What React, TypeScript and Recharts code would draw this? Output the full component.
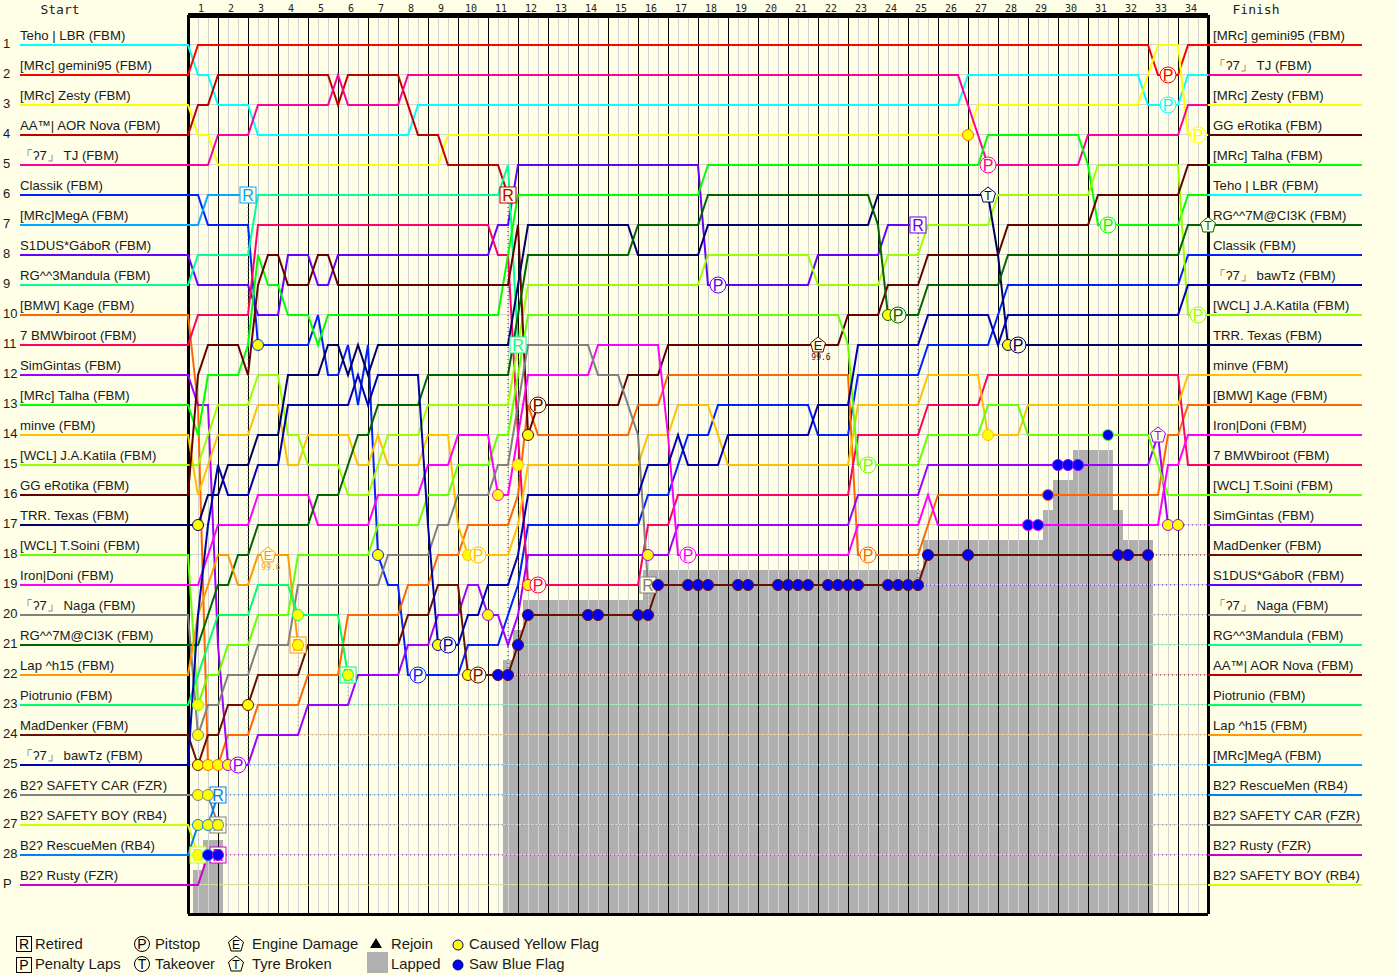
import {
  ComposedChart,
  Line,
  ReferenceArea,
  ReferenceLine,
  Scatter,
  XAxis,
  YAxis,
} from "recharts"

const PAPER = "#ffffe8"
const SANS = "'Liberation Sans', Arial, sans-serif"
const MONO = "'DejaVu Sans Mono', monospace"

// x axis counts sectors, three to a lap
const LAST_SECTOR = 102
const STUB_LEFT = -16.8
const STUB_RIGHT = 117.4
const FLOOR = 29.967

const startNames = [
  "Teho | LBR (FBM)", "[MRc] gemini95 (FBM)", "[MRc] Zesty (FBM)", "AA™| AOR Nova (FBM)", "「ʔ7」 TJ (FBM)",
  "Classik (FBM)", "[MRc]MegA (FBM)", "S1DUS*GáboR (FBM)", "RG^^3Mandula (FBM)", "[BMW] Kage (FBM)",
  "7 BMWbiroot (FBM)", "SimGintas (FBM)", "[MRc] Talha (FBM)", "minve (FBM)", "[WCL] J.A.Katila (FBM)",
  "GG eRotika (FBM)", "TRR. Texas (FBM)", "[WCL] T.Soini (FBM)", "Iron|Doni (FBM)", "「ʔ7」 Naga (FBM)",
  "RG^^7M@CI3K (FBM)", "Lap ^h15 (FBM)", "Piotrunio (FBM)", "MadDenker (FBM)", "「ʔ7」 bawTz (FBM)",
  "B2ʔ SAFETY CAR (FZR)", "B2ʔ SAFETY BOY (RB4)", "B2ʔ RescueMen (RB4)", "B2ʔ Rusty (FZR)",
]

const colours = [
  "#00ffff", "#ff0000", "#ffff00", "#c00000", "#ff0099",
  "#0020ff", "#00aaff", "#6600ff", "#00ff99", "#ff6600",
  "#ff0066", "#a000ff", "#00ff00", "#ffc000", "#99ff00",
  "#660000", "#000066", "#66ff00", "#ff00ff", "#808080",
  "#006600", "#ff9900", "#00ff66", "#6b1000", "#0000b0",
  "#808080", "#ccff00", "#0080ff", "#cc00cc",
]

// position changes per driver, in start order: [sector, new position]
const positionChanges: number[][][] = [
  [[1, 2], [3, 3], [7, 4], [23, 3], [78, 2], [96, 3], [100, 2]],
  [[1, 1], [97, 2], [100, 1]],
  [[1, 4], [3, 5], [26, 4], [79, 3], [96, 2], [97, 1], [100, 4]],
  [[1, 3], [3, 2], [15, 3], [16, 2], [22, 3], [23, 4], [26, 5], [32, 6]],
  [[3, 4], [7, 3], [15, 2], [16, 3], [22, 2], [78, 3], [79, 4], [80, 5], [90, 4], [100, 3]],
  [[2, 7], [7, 11], [13, 10], [14, 12], [16, 11], [17, 13], [18, 11], [19, 18], [20, 19], [22, 22], [28, 21], [32, 20], [33, 19], [34, 17], [46, 16], [49, 15], [50, 14], [53, 13], [63, 14], [67, 12], [74, 11], [81, 10], [82, 9], [100, 8]],
  [[2, 6]],
  [[1, 9], [7, 10], [10, 8], [13, 9], [15, 8], [31, 7], [33, 5], [52, 9], [63, 8], [70, 7]],
  [[1, 8], [7, 6], [32, 5], [33, 11]],
  [[1, 13], [2, 25], [4, 24], [7, 23], [12, 22], [16, 20], [22, 19], [25, 18], [28, 17], [33, 16], [34, 13], [35, 14], [45, 13], [48, 12], [67, 18], [74, 17], [75, 16], [98, 14], [100, 13]],
  [[1, 10], [7, 7], [31, 8], [33, 14], [34, 19], [46, 17], [49, 16], [67, 14], [74, 13], [80, 12], [100, 15]],
  [[1, 13], [3, 21], [4, 25], [7, 24], [12, 23], [17, 22], [22, 21], [25, 20], [28, 19], [30, 20], [32, 21], [33, 20], [34, 18], [49, 17], [67, 16], [74, 15], [97, 14], [98, 17]],
  [[1, 14], [2, 12], [6, 11], [7, 8], [8, 9], [10, 10], [13, 11], [14, 10], [32, 8], [33, 6], [52, 5], [80, 4], [90, 5], [91, 7], [100, 6]],
  [[1, 16], [2, 15], [3, 14], [7, 13], [10, 15], [12, 14], [17, 15], [19, 14], [20, 15], [24, 14], [27, 17], [28, 18], [33, 17], [34, 15], [46, 14], [49, 13], [53, 14], [54, 15], [67, 13], [74, 12], [80, 14], [84, 13], [100, 12]],
  [[2, 14], [3, 13], [7, 12], [10, 14], [12, 15], [16, 16], [19, 15], [20, 14], [24, 13], [33, 11], [34, 9], [52, 8], [63, 9], [70, 8], [74, 7], [81, 6], [91, 5], [100, 10]],
  [[1, 12], [2, 11], [6, 12], [7, 9], [8, 8], [10, 9], [13, 8], [15, 9], [33, 7], [34, 14], [35, 13], [44, 12], [48, 11], [66, 10], [70, 9], [74, 8], [82, 7], [91, 6], [100, 5]],
  [[2, 16], [4, 15], [7, 14], [10, 12], [14, 11], [16, 12], [17, 11], [18, 12], [19, 11], [33, 9], [34, 7], [45, 8], [52, 7], [69, 6], [81, 8], [82, 11]],
  [[1, 23], [2, 22], [4, 21], [7, 20], [11, 18], [19, 17], [24, 16], [27, 15], [31, 14], [33, 12], [34, 10], [66, 11], [67, 15], [74, 14], [80, 13], [84, 14], [97, 15], [98, 16]],
  [[2, 18], [3, 17], [7, 16], [13, 17], [19, 16], [24, 15], [27, 14], [31, 16], [33, 14], [34, 12], [41, 11], [48, 14], [49, 18], [67, 17], [74, 16], [75, 17], [98, 15], [100, 14]],
  [[1, 24], [2, 23], [4, 22], [7, 21], [11, 19], [20, 18], [25, 17], [27, 16], [31, 15], [33, 13], [34, 11], [41, 12], [44, 13], [45, 14], [46, 19]],
  [[2, 20], [3, 19], [5, 18], [7, 17], [13, 16], [16, 15], [17, 14], [19, 13], [24, 12], [33, 10], [34, 8], [45, 7], [52, 6], [69, 7], [70, 10], [74, 9], [82, 8], [100, 7]],
  [[1, 20], [2, 19], [3, 18], [5, 19], [7, 18], [11, 21]],
  [[1, 22], [2, 21], [3, 20], [7, 19], [11, 20], [16, 22]],
  [[1, 25], [2, 24], [4, 23], [7, 22], [12, 21], [22, 20], [25, 19], [28, 22], [33, 21], [34, 20], [47, 19], [74, 18]],
  [[1, 20], [2, 17], [3, 15], [4, 16], [7, 15], [10, 13], [17, 12], [18, 13], [19, 12], [24, 17], [25, 21], [28, 20], [30, 19], [33, 18], [34, 16], [46, 15], [49, 14], [50, 15], [54, 14], [63, 13], [67, 11], [74, 10], [81, 11], [82, 10], [100, 9]],
  [[3, 27]],
  [[1, 28]],
  [[1, 27], [3, 26]],
  [[2, 28]],
]

// sector of the last recorded position, for drivers that stopped early
const stoppedAt: Record<number, number> = {
  3: 32, 6: 6, 7: 73, 8: 33, 11: 98, 19: 46, 21: 11, 22: 16, 23: 96, 25: 3, 26: 1, 27: 3, 28: 3,
}

// driver index per finishing position
const finishOrder = [1, 4, 2, 15, 12, 0, 20, 5, 24, 14, 16, 13, 9, 18, 10, 17, 11, 23, 7, 19, 8, 3, 22, 21, 6, 27, 25, 28, 26]

const rowNumbers = [1, 2, 3, 4, 5, 6, 7, 8, 9, 10, 11, 12, 13, 14, 15, 16, 17, 18, 19, 20, 21, 22, 23, 24, 25, 26, 27, 28, 29]
const lapNumbers = [1, 2, 3, 4, 5, 6, 7, 8, 9, 10, 11, 12, 13, 14, 15, 16, 17, 18, 19, 20, 21, 22, 23, 24, 25, 26, 27, 28, 29, 30, 31, 32, 33, 34]

const lappedSectors = [
  1, 2, 3, 32, 33, 34, 35, 36, 37, 38, 39, 40, 41, 42, 43, 44, 45,
  46, 47, 48, 49, 50, 51, 52, 53, 54, 55, 56, 57, 58, 59, 60, 61, 62, 63, 64, 65, 66, 67, 68, 69, 70, 71, 72, 73,
  74, 75, 76, 77, 78, 79, 80, 81, 82, 83, 84, 85, 86, 87, 88, 89, 90, 91, 92, 93, 94, 95, 96,
]
const lappedTops = [
  28.5, 27.5, 27.5, 21.5, 20.5, 19.5, 19.5, 19.5, 19.5, 19.5, 19.5, 19.5, 19.5, 19.5, 19.5, 19.5, 19.5,
  18.5, 18.5, 18.5, 18.5, 18.5, 18.5, 18.5, 18.5, 18.5, 18.5, 18.5, 18.5, 18.5, 18.5, 18.5, 18.5, 18.5, 18.5, 18.5, 18.5, 18.5, 18.5, 18.5, 18.5, 18.5, 18.5, 18.5, 18.5,
  17.5, 17.5, 17.5, 17.5, 17.5, 17.5, 17.5, 17.5, 17.5, 17.5, 17.5, 17.5, 16.5, 15.5, 15.5, 14.5, 14.5, 14.5, 14.5, 16.5, 17.5, 17.5, 17.5,
]

// events: [sector, position, driver index]
const retirements = [[6, 6, 6], [32, 6, 3], [33, 11, 8], [46, 19, 19], [73, 7, 7], [3, 26, 27], [3, 27, 25], [1, 28, 26], [3, 28, 28], [11, 21, 21], [16, 22, 22]]
const yellowFlags = [
  [1, 17, 16], [1, 23, 17], [1, 24, 19], [1, 25, 23], [2, 25, 9], [3, 25, 9], [4, 25, 11], [1, 26, 25], [2, 26, 25],
  [1, 27, 27], [2, 27, 27], [1, 28, 26], [3, 27, 25], [6, 23, 23], [7, 11, 5], [11, 20, 22], [11, 21, 21], [16, 22, 22],
  [19, 18, 5], [25, 21, 24], [28, 18, 13], [28, 22, 23], [30, 20, 11], [31, 16, 18], [33, 15, 13], [34, 14, 15], [34, 19, 10],
  [46, 18, 11], [70, 10, 20], [78, 4, 9], [80, 14, 13], [82, 11, 16], [98, 17, 11], [99, 17, 11],
]
const blueFlags = [
  [2, 28, 27], [3, 28, 28], [31, 22, 23], [32, 22, 23], [33, 21, 23], [34, 20, 23], [40, 20, 23], [41, 20, 23], [45, 20, 23], [46, 20, 23],
  [47, 19, 23], [50, 19, 23], [51, 19, 23], [52, 19, 23], [55, 19, 23], [56, 19, 23], [59, 19, 23], [60, 19, 23], [61, 19, 23], [62, 19, 23],
  [64, 19, 23], [65, 19, 23], [66, 19, 23], [67, 19, 23], [70, 19, 23], [71, 19, 23], [72, 19, 23], [73, 19, 23],
  [74, 18, 23], [78, 18, 23], [93, 18, 23], [94, 18, 23], [96, 18, 23],
  [84, 17, 18], [85, 17, 18], [86, 16, 9], [87, 15, 11], [88, 15, 11], [89, 15, 11], [92, 14, 17],
]
const pitstops = [
  [5, 25, 11], [23, 22, 5], [26, 21, 24], [29, 18, 13], [29, 22, 23], [35, 13, 15], [35, 19, 10], [50, 18, 18], [53, 9, 7], [68, 15, 17],
  [68, 18, 9], [71, 10, 20], [80, 5, 4], [83, 11, 16], [92, 7, 12], [98, 2, 1], [98, 3, 0], [101, 4, 2], [101, 10, 14],
]
const engineDamage = [[8, 18, 21], [63, 11, 15]]
const tyreBroken = [[80, 6, 16], [102, 7, 20], [97, 14, 11]]

function toPoints(list: number[][]) {
  return list.map(([s, row, driver]) => ({ s, row, colour: colours[driver] }))
}

function buildPath(driver: number) {
  const changes = new Map(positionChanges[driver].map(([s, row]) => [s, row]))
  const end = stoppedAt[driver] ?? LAST_SECTOR
  const points = [{ s: STUB_LEFT, row: driver + 1 }]
  let row = driver + 1
  for (let s = 0; s <= end; s++) {
    row = changes.get(s) ?? row
    points.push({ s, row })
  }
  return points
}

function buildRetiredPath(driver: number) {
  const path = buildPath(driver)
  const last = path[path.length - 1]
  const finalRow = finishOrder.indexOf(driver) + 1
  return [last, { s: last.s, row: finalRow }, { s: LAST_SECTOR, row: finalRow }]
}

const sectorLines = Array.from({ length: LAST_SECTOR + 1 }, (_, s) => s)
const retiredDrivers = Object.keys(stoppedAt).map(Number)
const lapTicks = lapNumbers.map((lap) => lap * 3 - 1.7)
const START_TICK = -12.8
const FINISH_TICK = 106.8

const startLabels = startNames.map((label, i) => ({ s: STUB_LEFT, row: i + 1, label }))
const finishLabels = finishOrder.map((driver, i) => ({ s: 102.5, row: i + 1, label: startNames[driver] }))

function NameLabel(props: any) {
  return (
    <text x={props.cx} y={props.cy - 5} fontFamily={SANS} fontSize={13.2} fill="#1a1a1a" xmlSpace="preserve">
      {props.payload.label}
    </text>
  )
}

function FlagDot({ cx, cy, payload, fill }: any) {
  return <circle cx={cx} cy={cy} r={5.5} fill={fill} stroke={payload.colour} strokeWidth={1} />
}

function RetiredBox({ cx, cy, payload }: any) {
  return (
    <g>
      <rect x={cx - 8} y={cy - 8} width={16} height={16} fill={PAPER} stroke={payload.colour} strokeWidth={1} />
      <text x={cx} y={cy + 6} textAnchor="middle" fontFamily={SANS} fontSize={16} fill={payload.colour}>R</text>
    </g>
  )
}

function PitCircle({ cx, cy, payload }: any) {
  return (
    <g>
      <circle cx={cx} cy={cy} r={8} fill={PAPER} stroke={payload.colour} strokeWidth={1} />
      <text x={cx} y={cy + 6} textAnchor="middle" fontFamily={SANS} fontSize={16} fill={payload.colour}>P</text>
    </g>
  )
}

function pentagon(cx: number, cy: number) {
  return `${cx},${cy - 8} ${cx + 7.5},${cy - 2} ${cx + 5},${cy + 7} ${cx - 5},${cy + 7} ${cx - 7.5},${cy - 2}`
}

function EngineMark({ cx, cy, payload }: any) {
  return (
    <g>
      <polygon points={pentagon(cx, cy)} fill={PAPER} stroke={payload.colour} strokeWidth={1} />
      <text x={cx} y={cy + 5} textAnchor="middle" fontFamily={SANS} fontSize={13} fill={payload.colour}>E</text>
      <text x={cx + 3} y={cy + 15} textAnchor="middle" fontFamily={MONO} fontSize={8} fill={payload.colour}>99.6</text>
    </g>
  )
}

function TyreMark({ cx, cy, payload }: any) {
  return (
    <g>
      <polygon points={pentagon(cx, cy)} fill={PAPER} stroke={payload.colour} strokeWidth={1} />
      <text x={cx} y={cy + 5} textAnchor="middle" fontFamily={SANS} fontSize={12} fill={payload.colour}>T</text>
    </g>
  )
}

function TopTick({ x, payload }: any) {
  if (payload.value === START_TICK || payload.value === FINISH_TICK) {
    return (
      <text x={x} y={14} textAnchor="middle" fontFamily={MONO} fontSize={13} fill="#222">
        {payload.value === START_TICK ? "Start" : "Finish"}
      </text>
    )
  }
  return (
    <text x={x} y={12} textAnchor="middle" fontFamily={MONO} fontSize={10} fill="#222">
      {lapNumbers[lapTicks.indexOf(payload.value)]}
    </text>
  )
}

function BottomTick({ x, payload }: any) {
  return (
    <text x={x} y={927} textAnchor="middle" fontFamily={MONO} fontSize={10} fill="#222">
      {lapNumbers[lapTicks.indexOf(payload.value)]}
    </text>
  )
}

function LeftTick({ y, payload }: any) {
  return (
    <text x={3} y={y + 3} fontFamily={SANS} fontSize={13} fill="#1a1a1a">
      {payload.value === 29 ? "P" : payload.value}
    </text>
  )
}

function RightTick({ y, payload }: any) {
  return (
    <text x={1376} y={y + 3} fontFamily={SANS} fontSize={13} fill="#1a1a1a">
      {payload.value}{payload.value >= 19 ? "ª" : ""}
    </text>
  )
}

function LegendText({ x, y, children }: any) {
  return <text x={x} y={y} fontFamily={SANS} fontSize={14.8} fill="#1a1a1a">{children}</text>
}

function LegendBlock() {
  return (
    <svg width={1396} height={975} style={{ position: "absolute", left: 0, top: 0, pointerEvents: "none" }}>
      <rect x={16.5} y={936.5} width={15} height={15} fill="none" stroke="#000" />
      <text x={24} y={949} textAnchor="middle" fontFamily={SANS} fontSize={14}>R</text>
      <rect x={16.5} y={957.5} width={15} height={15} fill="none" stroke="#000" />
      <text x={24} y={970} textAnchor="middle" fontFamily={SANS} fontSize={14}>P</text>
      <LegendText x={35} y={949}>Retired</LegendText>
      <LegendText x={35} y={969}>Penalty Laps</LegendText>

      <circle cx={142} cy={944} r={7.5} fill="none" stroke="#000" />
      <text x={142} y={949} textAnchor="middle" fontFamily={SANS} fontSize={14}>P</text>
      <circle cx={142} cy={964} r={7.5} fill="none" stroke="#000" />
      <text x={142} y={969} textAnchor="middle" fontFamily={SANS} fontSize={14}>T</text>
      <LegendText x={155} y={949}>Pitstop</LegendText>
      <LegendText x={155} y={969}>Takeover</LegendText>

      <polygon points={pentagon(236, 944)} fill="none" stroke="#000" />
      <text x={236} y={949} textAnchor="middle" fontFamily={SANS} fontSize={12}>E</text>
      <polygon points={pentagon(236, 964)} fill="none" stroke="#000" />
      <text x={236} y={969} textAnchor="middle" fontFamily={SANS} fontSize={12}>T</text>
      <LegendText x={252} y={949}>Engine Damage</LegendText>
      <LegendText x={252} y={969}>Tyre Broken</LegendText>

      <polygon points="376,938 382,948 370,948" fill="#000" />
      <rect x={367} y={952} width={21} height={21} fill="#b0b0b0" />
      <LegendText x={391} y={949}>Rejoin</LegendText>
      <LegendText x={391} y={969}>Lapped</LegendText>

      <circle cx={458} cy={945} r={5} fill="#ffff00" stroke="#000080" />
      <circle cx={458} cy={965} r={5} fill="#0000ff" stroke="#000080" />
      <LegendText x={469} y={949}>Caused Yellow Flag</LegendText>
      <LegendText x={469} y={969}>Saw Blue Flag</LegendText>
    </svg>
  )
}

const axisIds = { xAxisId: "top", yAxisId: "left" }

export default function App() {
  return (
    <div style={{ position: "absolute", left: 0, top: 0, width: 1396, height: 975, background: PAPER, overflow: "hidden" }}>
      <ComposedChart width={1396} height={975} margin={{ top: 0, right: 0, bottom: 31, left: 0 }}>
        <XAxis
          xAxisId="top"
          orientation="top"
          type="number"
          dataKey="s"
          domain={[STUB_LEFT, STUB_RIGHT]}
          ticks={[START_TICK, ...lapTicks, FINISH_TICK]}
          interval={0}
          height={15}
          axisLine={false}
          tickLine={false}
          tick={TopTick}
        />
        <XAxis
          xAxisId="bottom"
          orientation="bottom"
          type="number"
          dataKey="s"
          domain={[STUB_LEFT, STUB_RIGHT]}
          ticks={lapTicks}
          interval={0}
          height={30}
          axisLine={false}
          tickLine={false}
          tick={BottomTick}
        />
        <YAxis
          yAxisId="left"
          orientation="left"
          type="number"
          dataKey="row"
          reversed
          domain={[0, FLOOR]}
          ticks={rowNumbers}
          interval={0}
          width={20}
          axisLine={false}
          tickLine={false}
          tick={LeftTick}
        />
        <YAxis
          yAxisId="right"
          orientation="right"
          type="number"
          dataKey="row"
          reversed
          domain={[0, FLOOR]}
          ticks={rowNumbers}
          interval={0}
          width={34}
          axisLine={false}
          tickLine={false}
          tick={RightTick}
        />

        {rowNumbers.map((row) => (
          <ReferenceLine
            key={`row-${row}`}
            {...axisIds}
            segment={[{ x: 0, y: row }, { x: LAST_SECTOR, y: row }]}
            stroke="#d4d4d4"
            shapeRendering="crispEdges"
          />
        ))}

        {lappedSectors.map((s, i) => (
          <ReferenceArea
            key={`lapped-${s}`}
            {...axisIds}
            x1={s - 0.5}
            x2={s + 0.5}
            y1={lappedTops[i]}
            y2={FLOOR}
            fill="#b0b0b0"
            fillOpacity={1}
            stroke="none"
            shapeRendering="crispEdges"
          />
        ))}

        {sectorLines.map((s) => (
          <ReferenceLine
            key={`sector-${s}`}
            {...axisIds}
            x={s}
            stroke={s % 3 === 0 ? "#000" : "#d4d4d4"}
            strokeWidth={s === 0 || s === LAST_SECTOR ? 3 : 1}
            shapeRendering="crispEdges"
          />
        ))}
        <ReferenceLine {...axisIds} segment={[{ x: 0, y: 0 }, { x: LAST_SECTOR, y: 0 }]} stroke="#000" strokeWidth={5} shapeRendering="crispEdges" />
        <ReferenceLine {...axisIds} segment={[{ x: 0, y: FLOOR }, { x: LAST_SECTOR, y: FLOOR }]} stroke="#000" strokeWidth={3} shapeRendering="crispEdges" />

        {retiredDrivers.map((driver) => (
          <Line
            key={`retired-${driver}`}
            {...axisIds}
            data={buildRetiredPath(driver)}
            dataKey="row"
            stroke={colours[driver]}
            strokeWidth={1}
            strokeDasharray="1 3"
            dot={false}
            activeDot={false}
            isAnimationActive={false}
          />
        ))}

        {startNames.map((name, driver) => (
          <Line
            key={name}
            {...axisIds}
            data={buildPath(driver)}
            dataKey="row"
            stroke={colours[driver]}
            strokeWidth={2}
            dot={false}
            activeDot={false}
            isAnimationActive={false}
          />
        ))}

        {finishOrder.map((driver, i) => (
          <Line
            key={`finish-${driver}`}
            {...axisIds}
            data={[{ s: LAST_SECTOR, row: i + 1 }, { s: STUB_RIGHT, row: i + 1 }]}
            dataKey="row"
            stroke={colours[driver]}
            strokeWidth={2}
            dot={false}
            activeDot={false}
            isAnimationActive={false}
          />
        ))}

        <Scatter {...axisIds} data={toPoints(retirements)} shape={RetiredBox} isAnimationActive={false} />
        <Scatter {...axisIds} data={toPoints(yellowFlags)} shape={(p: any) => <FlagDot {...p} fill="#ffff00" />} isAnimationActive={false} />
        <Scatter {...axisIds} data={toPoints(blueFlags)} shape={(p: any) => <FlagDot {...p} fill="#0000ff" />} isAnimationActive={false} />
        <Scatter {...axisIds} data={toPoints(pitstops)} shape={PitCircle} isAnimationActive={false} />
        <Scatter {...axisIds} data={toPoints(engineDamage)} shape={EngineMark} isAnimationActive={false} />
        <Scatter {...axisIds} data={toPoints(tyreBroken)} shape={TyreMark} isAnimationActive={false} />
        <Scatter {...axisIds} data={startLabels} shape={NameLabel} isAnimationActive={false} />
        <Scatter {...axisIds} data={finishLabels} shape={NameLabel} isAnimationActive={false} />
      </ComposedChart>
      <LegendBlock />
    </div>
  )
}
